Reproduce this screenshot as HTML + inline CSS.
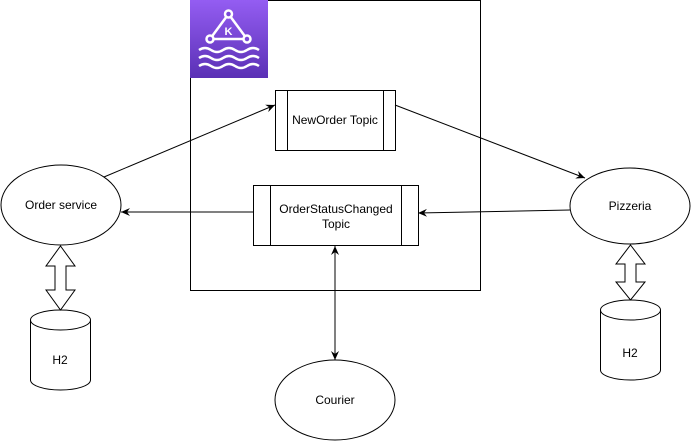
<!DOCTYPE html>
<html><head><style>body{margin:0;background:#fff}</style></head><body>
<svg width="691" height="441" viewBox="0 0 691 441" xmlns="http://www.w3.org/2000/svg" font-family="Liberation Sans, sans-serif" font-size="12">
<defs>
<marker id="a" markerWidth="10" markerHeight="10" refX="9" refY="5" orient="auto-start-reverse" markerUnits="userSpaceOnUse"><path d="M0,1 L9,5 L0,9 L3,5 Z" fill="#000"/></marker>
<linearGradient id="g" x1="0" y1="0" x2="0" y2="1"><stop offset="0" stop-color="#945df2"/><stop offset="1" stop-color="#5a30b5"/></linearGradient>
</defs>
<rect x="190.5" y="0.5" width="290" height="290" fill="none" stroke="#000"/>
<rect x="190" y="0" width="78" height="78" fill="url(#g)"/>
<g stroke="#fff" stroke-width="2.5" fill="none">
<path d="M228.5,14 L210,39 L247,39 Z"/>
<circle cx="228.5" cy="14" r="3.5" fill="#7a48d8"/><circle cx="210" cy="39" r="3.5" fill="#7a48d8"/><circle cx="247" cy="39" r="3.5" fill="#7a48d8"/>
<path d="M199,50 q6,-4 12,0 t12,0 t12,0 t12,0 t12,0"/>
<path d="M199,58 q6,-4 12,0 t12,0 t12,0 t12,0 t12,0"/>
<path d="M199,66 q6,-4 12,0 t12,0 t12,0 t12,0 t12,0"/>
</g>
<text x="228.5" y="35" fill="#fff" font-size="11" font-weight="bold" text-anchor="middle">K</text>
<g fill="#fff" stroke="#000">
<rect x="275.5" y="90.5" width="120" height="60"/><line x1="287.5" y1="90.5" x2="287.5" y2="150.5"/><line x1="383.5" y1="90.5" x2="383.5" y2="150.5"/>
<rect x="253.5" y="185.5" width="165" height="60"/><line x1="270.5" y1="185.5" x2="270.5" y2="245.5"/><line x1="401.5" y1="185.5" x2="401.5" y2="245.5"/>
<ellipse cx="61" cy="205" rx="60" ry="40"/>
<ellipse cx="630" cy="206" rx="60" ry="38"/>
<ellipse cx="335" cy="400" rx="60" ry="40"/>
<path d="M30.5,320 v60 a30,10 0 0 0 60,0 v-60 a30,10 0 0 0 -60,0 a30,10 0 0 0 60,0"/>
<path d="M600.5,310 v60 a30,10 0 0 0 60,0 v-60 a30,10 0 0 0 -60,0 a30,10 0 0 0 60,0"/>
<path d="M60.5,246 L75,266 L66,266 L66,290 L75,290 L60.5,310 L46,290 L55,290 L55,266 L46,266 Z"/>
<path d="M630.5,245 L645,264 L636,264 L636,282 L645,282 L630.5,300 L616,282 L625,282 L625,264 L616,264 Z"/>
</g>
<g stroke="#000" fill="none" marker-end="url(#a)">
<line x1="104" y1="177" x2="275" y2="105"/>
<line x1="395" y1="105" x2="585" y2="178"/>
<line x1="253" y1="212" x2="121" y2="212"/>
<line x1="570" y1="210" x2="418" y2="213"/>
<line x1="335" y1="246" x2="335" y2="360" marker-start="url(#a)"/>
</g>
<g fill="#000" text-anchor="middle">
<text x="335" y="124">NewOrder Topic</text>
<text x="336" y="213">OrderStatusChanged</text><text x="336" y="228">Topic</text>
<text x="61" y="209">Order service</text>
<text x="630" y="210">Pizzeria</text>
<text x="335" y="404">Courier</text>
<text x="60" y="364">H2</text>
<text x="630" y="357">H2</text>
</g>
</svg>
</body></html>
